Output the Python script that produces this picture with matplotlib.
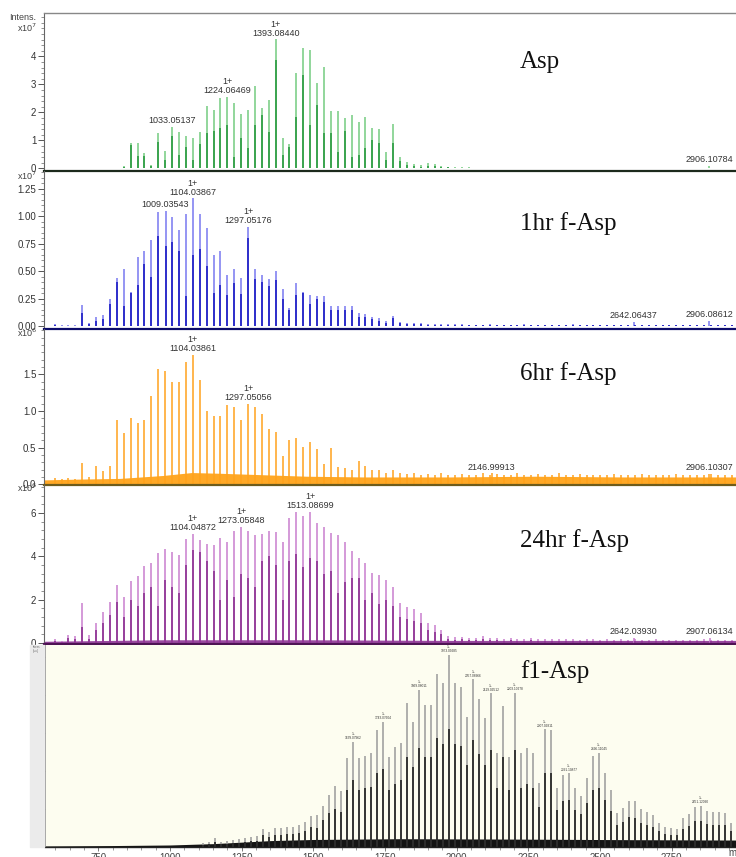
# stacked MALDI spectra: Asp, 1hr / 6hr / 24hr f-Asp and f1-Asp
import matplotlib
matplotlib.use('Agg')
import matplotlib.pyplot as plt
from matplotlib.ticker import MultipleLocator, FixedLocator
from matplotlib.patches import Rectangle
import numpy as np

plt.rcParams['font.family'] = ['Liberation Sans', 'DejaVu Sans']

# ---------------- data ----------------
# the four upper spectra share one peak ladder (first m/z, spacing)
upper_mz0 = 622.0
upper_step = 24.1

# Asp, intensity x10^7 (tall line / darker inner line)
asp_h = [0, 0, 0, 0, 0, 0, 0, 0.03, 0.03, 0.03,
         0.1, 0.9, 0.9, 0.57, 0.12, 1.28, 0.64, 1.49, 1.29, 1.16,
         1.1, 1.31, 2.23, 2.09, 2.5, 2.56, 2.33, 1.93, 2.09, 2.95,
         2.17, 2.45, 4.61, 1.1, 0.87, 3.42, 4.29, 4.23, 3.04, 3.64,
         2.05, 2.05, 1.79, 1.91, 1.67, 1.83, 1.43, 1.4, 0.6, 1.58,
         0.42, 0.22, 0.16, 0.14, 0.18, 0.16, 0.1, 0.07, 0.05, 0.04,
         0.04, 0.03, 0.03, 0.02, 0.02, 0.02, 0.02, 0.01, 0.02, 0.01,
         0.01, 0.01, 0.01, 0.02, 0.01, 0.01, 0.01, 0.02, 0.01, 0.01,
         0.01, 0.01, 0.01, 0.01, 0.01, 0.01, 0.01, 0.01, 0.01, 0.01,
         0.01, 0.01, 0.01, 0.01, 0.01, 0.01, 0.01, 0.01, 0.01]
asp_in = [0, 0, 0, 0, 0, 0, 0, 0.02, 0.02, 0.02,
          0.06, 0.84, 0.45, 0.45, 0.08, 0.96, 0.3, 1.16, 0.48, 0.78,
          0.3, 0.87, 1.26, 1.34, 1.43, 1.55, 0.42, 1.08, 0.74, 1.55,
          1.91, 1.32, 3.88, 0.48, 0.78, 1.85, 3.34, 1.55, 2.27, 1.26,
          1.26, 0.6, 1.34, 0.42, 0.48, 0.72, 1.0, 0.9, 0.3, 0.9,
          0.25, 0.12, 0.08, 0.07, 0.1, 0.08, 0.05, 0.04, 0.03, 0.02,
          0.02, 0.02, 0.01, 0.01, 0.01, 0.01, 0.01, 0.01, 0.01, 0.01,
          0.01, 0.01, 0.01, 0.01, 0.01, 0.01, 0.01, 0.01, 0.01, 0.01,
          0.01, 0.01, 0.01, 0.01, 0.01, 0.01, 0.01, 0.01, 0.01, 0.01,
          0.01, 0.01, 0.01, 0.01, 0.01, 0.01, 0.01, 0.01, 0.01]
asp_lab_idx = [17, 25, 32]
asp_lab_txt = ['1033.05137', '1224.06469', '1393.08440']
asp_lab_z = ['', '1+', '1+']
asp_minor_txt = ['2906.10784']
asp_minor_h = [0.1]
asp_yticks = [0, 1, 2, 3, 4]

# 1hr f-Asp, intensity x10^7
hr1_h = [0.02, 0.01, 0.01, 0.01, 0.19, 0.03, 0.085, 0.1, 0.25, 0.44,
         0.52, 0.31, 0.63, 0.68, 0.78, 1.04, 1.05, 0.99, 0.87, 1.02,
         1.16, 1.02, 0.89, 0.65, 0.68, 0.46, 0.52, 0.44, 0.9, 0.52,
         0.46, 0.43, 0.5, 0.34, 0.16, 0.39, 0.31, 0.28, 0.27, 0.27,
         0.18, 0.18, 0.18, 0.18, 0.12, 0.11, 0.085, 0.07, 0.05, 0.09,
         0.04, 0.03, 0.03, 0.03, 0.02, 0.02, 0.02, 0.015, 0.015, 0.015,
         0.01, 0.01, 0.01, 0.015, 0.01, 0.01, 0.01, 0.01, 0.015, 0.01,
         0.01, 0.01, 0.01, 0.01, 0.01, 0.015, 0.01, 0.01, 0.01, 0.01,
         0.01, 0.01, 0.01, 0.01, 0.01, 0.01, 0.01, 0.01, 0.01, 0.01,
         0.01, 0.01, 0.01, 0.01, 0.01, 0.01, 0.01, 0.01, 0.01]
hr1_in = [0.01, 0, 0, 0, 0.12, 0.02, 0.05, 0.06, 0.2, 0.4,
          0.18, 0.3, 0.37, 0.56, 0.45, 0.82, 0.73, 0.76, 0.68, 0.27,
          0.65, 0.7, 0.55, 0.3, 0.37, 0.28, 0.39, 0.29, 0.8, 0.43,
          0.4, 0.36, 0.42, 0.25, 0.15, 0.28, 0.3, 0.2, 0.25, 0.22,
          0.15, 0.15, 0.15, 0.15, 0.08, 0.08, 0.06, 0.05, 0.03, 0.07,
          0.03, 0.02, 0.02, 0.02, 0.01, 0.01, 0.01, 0.01, 0.01, 0.01,
          0.005, 0.005, 0.005, 0.005, 0.005, 0.005, 0.005, 0.005, 0.005, 0.005,
          0.005, 0.005, 0.005, 0.005, 0.005, 0.005, 0.005, 0.005, 0.005, 0.005,
          0.005, 0.005, 0.005, 0.005, 0.005, 0.005, 0.005, 0.005, 0.005, 0.005,
          0.005, 0.005, 0.005, 0.005, 0.005, 0.005, 0.005, 0.005, 0.005]
hr1_lab_idx = [16, 20, 28]
hr1_lab_txt = ['1009.03543', '1104.03867', '1297.05176']
hr1_lab_z = ['', '1+', '1+']
hr1_minor_txt = ['2642.06437', '2906.08612']
hr1_minor_h = [0.04, 0.05]
hr1_yticks = [0, 0.25, 0.5, 0.75, 1.0, 1.25]

# 6hr f-Asp, intensity x10^6
hr6_h = [0.08, 0.07, 0.08, 0.07, 0.29, 0.1, 0.25, 0.18, 0.25, 0.88,
         0.7, 0.91, 0.84, 0.88, 1.2, 1.58, 1.55, 1.4, 1.39, 1.67,
         1.77, 1.43, 1.0, 0.93, 0.93, 1.08, 1.06, 0.88, 1.1, 1.06,
         0.96, 0.76, 0.72, 0.38, 0.61, 0.63, 0.51, 0.58, 0.48, 0.27,
         0.49, 0.23, 0.22, 0.2, 0.32, 0.25, 0.2, 0.19, 0.16, 0.2,
         0.15, 0.14, 0.16, 0.13, 0.14, 0.12, 0.15, 0.13, 0.12, 0.14,
         0.12, 0.13, 0.15, 0.12, 0.14, 0.13, 0.12, 0.15, 0.13, 0.12,
         0.14, 0.12, 0.13, 0.15, 0.12, 0.13, 0.14, 0.12, 0.13, 0.12,
         0.13, 0.14, 0.12, 0.13, 0.12, 0.14, 0.13, 0.12, 0.13, 0.12,
         0.14, 0.12, 0.13, 0.12, 0.13, 0.14, 0.12, 0.13, 0.12]
hr6_lab_idx = [20, 28]
hr6_lab_txt = ['1104.03861', '1297.05056']
hr6_lab_z = ['1+', '1+']
hr6_minor_txt = ['2146.99913', '2906.10307']
hr6_minor_h = [0.15, 0.14]
hr6_yticks = [0, 0.5, 1.0, 1.5]
# chemical noise floor under the 6hr spectrum
hr6_band_mz = [585, 700, 850, 1000, 1100, 1200, 1350, 1500, 1700, 2000, 2300, 2600, 3000]
hr6_band_lvl = [0.06, 0.07, 0.08, 0.12, 0.16, 0.15, 0.13, 0.11, 0.1, 0.1, 0.11, 0.1, 0.1]

# 24hr f-Asp, intensity x10^6
hr24_h = [0.17, 0.1, 0.37, 0.32, 1.86, 0.37, 0.94, 1.45, 1.91, 2.68,
          2.14, 2.88, 3.09, 3.55, 3.71, 4.14, 4.34, 4.22, 4.06, 4.78,
          5.03, 4.75, 4.57, 4.52, 4.83, 4.68, 5.18, 5.37, 5.18, 4.98,
          5.03, 5.18, 5.14, 4.68, 5.75, 6.03, 5.86, 6.05, 5.55, 5.37,
          5.06, 4.98, 4.68, 4.26, 3.91, 3.68, 3.22, 3.14, 2.91, 2.6,
          1.83, 1.68, 1.57, 1.37, 0.94, 0.83, 0.6, 0.32, 0.26, 0.29,
          0.22, 0.22, 0.32, 0.25, 0.22, 0.2, 0.24, 0.2, 0.18, 0.22,
          0.2, 0.18, 0.2, 0.17, 0.19, 0.18, 0.16, 0.2, 0.17, 0.16,
          0.18, 0.16, 0.17, 0.15, 0.2, 0.16, 0.15, 0.17, 0.15, 0.16,
          0.15, 0.14, 0.16, 0.15, 0.2, 0.14, 0.15, 0.14, 0.15]
hr24_in = [0.1, 0.05, 0.25, 0.2, 0.75, 0.2, 0.6, 0.9, 1.3, 1.9,
           1.2, 2.0, 1.7, 2.3, 2.6, 1.7, 2.9, 2.6, 2.3, 3.6,
           4.3, 4.2, 3.8, 3.3, 2.0, 2.9, 2.1, 3.2, 3.0, 2.6,
           3.8, 4.0, 3.6, 2.0, 3.8, 4.1, 3.5, 3.9, 3.8, 3.2,
           3.3, 2.3, 2.8, 3.0, 3.0, 2.0, 2.3, 1.8, 2.0, 1.7,
           1.2, 1.1, 1.0, 0.9, 0.6, 0.5, 0.4, 0.2, 0.15, 0.17,
           0.12, 0.12, 0.18, 0.14, 0.12, 0.11, 0.13, 0.11, 0.1, 0.12,
           0.11, 0.1, 0.11, 0.1, 0.1, 0.1, 0.09, 0.11, 0.1, 0.09,
           0.1, 0.09, 0.1, 0.09, 0.11, 0.09, 0.09, 0.1, 0.09, 0.09,
           0.09, 0.08, 0.09, 0.09, 0.11, 0.08, 0.09, 0.08, 0.09]
hr24_lab_idx = [20, 27, 37]
hr24_lab_txt = ['1104.04872', '1273.05848', '1513.08699']
hr24_lab_z = ['1+', '1+', '1+']
hr24_minor_txt = ['2642.03930', '2907.06134']
hr24_minor_h = [0.25, 0.25]
hr24_yticks = [0, 2, 4, 6]
hr24_band_mz = [585, 1000, 1500, 2000, 3000]
hr24_band_lvl = [0.08, 0.15, 0.15, 0.12, 0.12]

# f1-Asp, own peak ladder and intensity scale
f1_mz0 = 1116.6
f1_step = 20.9
f1_h = [20, 25, 45, 25, 30, 35, 40, 45, 50, 55,
        93, 79, 97, 97, 102, 102, 114, 132, 164, 167,
        216, 272, 321, 293, 469, 553, 465, 479, 492, 614,
        658, 474, 526, 547, 758, 658, 825, 744, 747, 907,
        860, 1009, 863, 842, 684, 881, 779, 676, 807, 492,
        740, 470, 811, 492, 518, 495, 337, 618, 614, 311,
        377, 386, 309, 267, 360, 477, 495, 389, 298, 179,
        205, 242, 240, 197, 184, 167, 123, 105, 97, 93,
        149, 172, 211, 214, 190, 184, 181, 179, 126, 114]
f1_in = [10, 12, 25, 12, 15, 18, 20, 25, 28, 30,
         60, 50, 62, 60, 65, 65, 70, 85, 105, 100,
         140, 175, 200, 185, 300, 350, 300, 310, 315, 390,
         410, 300, 330, 350, 470, 420, 520, 470, 470, 570,
         540, 620, 540, 530, 430, 560, 490, 430, 510, 310,
         470, 300, 510, 310, 330, 310, 210, 390, 390, 195,
         240, 245, 195, 170, 230, 300, 310, 245, 190, 115,
         130, 155, 150, 125, 115, 105, 80, 65, 60, 60,
         95, 110, 135, 135, 120, 115, 115, 115, 80, 72]
f1_lab_idx = [25, 30, 36, 41, 45, 48, 52, 57, 61, 66, 83]
f1_lab_txt = ['1639.07962', '1743.07604', '1869.08011', '1973.09285',
              '2057.08966', '2119.09512', '2203.10278', '2307.09811',
              '2391.10877', '2496.11045', '2851.12090']
f1_band_mz = [564, 800, 1000, 1150, 1250, 1350, 1500, 1800, 2200, 2600, 2975]
f1_band_lvl = [4, 6, 9, 16, 24, 32, 38, 42, 40, 37, 35]
f1_xticks = [750, 1000, 1250, 1500, 1750, 2000, 2250, 2500, 2750]
f1_yticks = [0, 200, 400, 600, 800, 1000]

# ---------------- figure ----------------
W, H = 736, 857
fig = plt.figure(figsize=(W / 100, H / 100), dpi=100)


def px_axes(left, top, right, bottom):
    return fig.add_axes([left / W, 1 - bottom / H, (right - left) / W, (bottom - top) / H])


def ladder(mz0, step, n, lab_idx, lab_txt):
    mz = mz0 + step * np.arange(n)
    for i, t in zip(lab_idx, lab_txt):
        mz[i] = float(t)
    return mz


def draw_peaks(ax, mz, h, inner, c_out, c_in, lw=1.1):
    ax.vlines(mz, 0, h, colors=c_out, lw=lw, zorder=2)
    if inner is not None:
        ax.vlines(mz[:len(inner)], 0, inner, colors=c_in, lw=lw, zorder=3)


def peak_label(ax, x, y, txt, z, fs=6.5):
    s = z + '\n' + txt if z else txt
    ax.annotate(s, (x, y), xytext=(0, 1.2), textcoords='offset points',
                ha='center', va='bottom', fontsize=fs, color='#333333',
                linespacing=1.0, annotation_clip=False, zorder=5)


def style_upper(ax, ylim, ticks, minor, fmt, base_color):
    ax.set_xlim(585, 2999)
    ax.set_ylim(*ylim)
    ax.set_xticks([])
    ax.yaxis.set_major_locator(FixedLocator(ticks))
    ax.yaxis.set_minor_locator(MultipleLocator(minor))
    ax.yaxis.set_major_formatter(plt.FuncFormatter(lambda v, p: fmt.format(v)))
    ax.tick_params(axis='y', which='major', length=4, width=0.7, labelsize=7,
                   colors='#555555', labelcolor='#333333', pad=1.5)
    ax.tick_params(axis='y', which='minor', length=2, width=0.5, colors='#666666')
    for s in ['top', 'right']:
        ax.spines[s].set_visible(False)
    ax.spines['left'].set_color('#666666')
    ax.spines['left'].set_linewidth(0.8)
    ax.spines['bottom'].set_color(base_color)
    ax.spines['bottom'].set_linewidth(1.6)
    ax.patch.set_alpha(0)


panels = [
    # data, inner, labels, minor peaks, axes box, limits, ticks, colours
    dict(h=asp_h, inner=asp_in, li=asp_lab_idx, lt=asp_lab_txt, lz=asp_lab_z,
         mt=asp_minor_txt, mh=asp_minor_h, box=(44, 13, 736, 171),
         ylim=(-0.09, 5.55), ticks=asp_yticks, minor=0.2, fmt='{:.0f}',
         c_out='#74cc80', c_in='#23963a', base='#1c2a1c'),
    dict(h=hr1_h, inner=hr1_in, li=hr1_lab_idx, lt=hr1_lab_txt, lz=hr1_lab_z,
         mt=hr1_minor_txt, mh=hr1_minor_h, box=(44, 171, 736, 329),
         ylim=(-0.027, 1.41), ticks=hr1_yticks, minor=0.05, fmt='{:.2f}',
         c_out='#7878f0', c_in='#1212c0', base='#0c0c6a'),
    dict(h=hr6_h, inner=None, li=hr6_lab_idx, lt=hr6_lab_txt, lz=hr6_lab_z,
         mt=hr6_minor_txt, mh=hr6_minor_h, box=(44, 329, 736, 485),
         ylim=(-0.01, 2.12), ticks=hr6_yticks, minor=0.1, fmt='{:.1f}',
         c_out='#ffa21c', c_in=None, base='#6e5c1c'),
    dict(h=hr24_h, inner=hr24_in, li=hr24_lab_idx, lt=hr24_lab_txt, lz=hr24_lab_z,
         mt=hr24_minor_txt, mh=hr24_minor_h, box=(44, 485, 736, 644),
         ylim=(-0.046, 7.29), ticks=hr24_yticks, minor=0.4, fmt='{:.0f}',
         c_out='#c97ece', c_in='#86288c', base='#4e1454'),
]

axes = []
for p in panels:
    ax = px_axes(*p['box'])
    mz = ladder(upper_mz0, upper_step, len(p['h']), p['li'], p['lt'])
    draw_peaks(ax, mz, p['h'], p['inner'], p['c_out'], p['c_in'])
    for i, t, z in zip(p['li'], p['lt'], p['lz']):
        peak_label(ax, mz[i], p['h'][i], t, z)
    mmz = [float(t) for t in p['mt']]
    ax.vlines(mmz, 0, p['mh'], colors=p['c_out'], lw=1.1, zorder=2)
    for x, y, t in zip(mmz, p['mh'], p['mt']):
        peak_label(ax, x, y, t, '')
    style_upper(ax, p['ylim'], p['ticks'], p['minor'], p['fmt'], p['base'])
    axes.append(ax)

ax_asp, ax_1, ax_6, ax_24 = axes
ax_asp.spines['top'].set_visible(True)
ax_asp.spines['top'].set_color('#888888')
ax_asp.spines['top'].set_linewidth(1.0)

# noise floors
ax_6.fill_between(hr6_band_mz, 0, hr6_band_lvl, color='#ffa826', lw=0, zorder=1)
ax_24.fill_between(hr24_band_mz, 0, hr24_band_lvl, color='#9a4aa0', lw=0, zorder=1)

# intensity captions
fig.text(9 / W, 1 - 17 / H, 'Intens.', fontsize=6.5, color='#444444', va='center')
for y, e in [(28, 7), (176, 7), (333, 6), (488, 6)]:
    fig.text(17 / W, 1 - y / H, r'x10$^{%d}$' % e, fontsize=6.5, color='#444444', va='center')

# ---------------- f1-Asp ----------------
fig.patches.append(Rectangle((30 / W, 1 - 847 / H), 14 / W, 202 / H,
                             transform=fig.transFigure, color='#ebebeb', zorder=0))
ax_f = px_axes(45, 645, 736, 847)
ax_f.set_facecolor('#fdfdf0')
f1_mz = ladder(f1_mz0, f1_step, len(f1_h), f1_lab_idx, f1_lab_txt)
ax_f.fill_between(f1_band_mz, 0, f1_band_lvl, color='#141414', lw=0, zorder=1)
draw_peaks(ax_f, f1_mz, f1_h, f1_in, '#9a9a9a', '#141414')
for i, t in zip(f1_lab_idx, f1_lab_txt):
    peak_label(ax_f, f1_mz[i], f1_h[i], t, '1+', fs=2.3)
ax_f.set_xlim(564, 2974)
ax_f.set_ylim(-1.6, 1061)
ax_f.xaxis.set_major_locator(FixedLocator(f1_xticks))
ax_f.xaxis.set_minor_locator(MultipleLocator(50))
ax_f.yaxis.set_major_locator(FixedLocator(f1_yticks))
ax_f.tick_params(axis='x', which='major', length=3, width=0.6, labelsize=7,
                 colors='#666666', labelcolor='#444444', pad=1.5)
ax_f.tick_params(axis='x', which='minor', length=2, width=0.5, colors='#777777')
ax_f.tick_params(axis='y', which='major', length=2, width=0.5, labelsize=2.5,
                 colors='#888888', labelcolor='#666666', pad=1)
for s in ['top', 'right']:
    ax_f.spines[s].set_visible(False)
ax_f.spines['left'].set_color('#888888')
ax_f.spines['left'].set_linewidth(0.6)
ax_f.spines['bottom'].set_color('#222222')
ax_f.spines['bottom'].set_linewidth(1.0)
fig.text(33 / W, 1 - 649 / H, 'Intens.\n[a.u.]', fontsize=2, color='#666666',
         va='center', linespacing=1.0)
fig.text(728 / W, 1 - 853 / H, 'm/z', fontsize=7, color='#444444', va='center')

# sample names
serif = ['Liberation Serif', 'DejaVu Serif']
for y, name in [(68, 'Asp'), (230, '1hr f-Asp'), (380, '6hr f-Asp'),
                (547, '24hr f-Asp'), (678, 'f1-Asp')]:
    fig.text(520 / W, 1 - y / H, name, fontsize=18, family=serif,
             color='#111111', va='baseline', ha='left')

fig.savefig('out.png', dpi=100)
